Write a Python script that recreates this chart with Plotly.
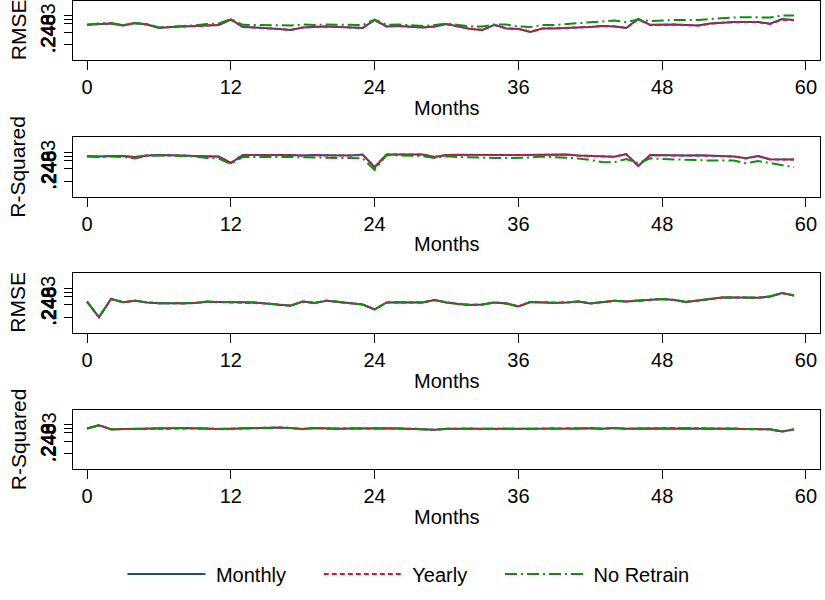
import plotly.graph_objects as go

months = list(range(60))

# Panel 1: RMSE
rmse1_monthly = [.2357, .2365, .2370, .2350, .2375, .2360, .2325, .2335, .2340, .2345, .2350, .2355,
                 .2410, .2335, .2330, .2325, .2315, .2305, .2330, .2335, .2340, .2335, .2330, .2325,
                 .2405, .2340, .2345, .2340, .2330, .2340, .2365, .2340, .2315, .2305, .2357, .2320,
                 .2315, .2285, .2320, .2320, .2325, .2325, .2335, .2345, .2340, .2325, .2415, .2357,
                 .2360, .2360, .2355, .2350, .2370, .2380, .2385, .2385, .2385, .2367, .2415, .2405]
rmse1_yearly = [.2355, .2366, .2368, .2352, .2373, .2361, .2327, .2336, .2341, .2344, .2352, .2356,
                .2408, .2337, .2331, .2326, .2316, .2306, .2331, .2337, .2341, .2336, .2331, .2327,
                .2404, .2341, .2346, .2341, .2331, .2341, .2363, .2341, .2317, .2307, .2355, .2321,
                .2317, .2287, .2321, .2322, .2327, .2326, .2336, .2346, .2342, .2327, .2413, .2355,
                .2359, .2359, .2354, .2350, .2368, .2378, .2383, .2384, .2384, .2366, .2408, .2402]
rmse1_noretrain = [.2357, .2370, .2375, .2355, .2375, .2365, .2330, .2340, .2345, .2350, .2365, .2370,
                   .2415, .2357, .2355, .2355, .2350, .2350, .2360, .2355, .2360, .2360, .2355, .2355,
                   .2410, .2357, .2360, .2355, .2345, .2355, .2370, .2355, .2340, .2340, .2360, .2360,
                   .2340, .2335, .2355, .2355, .2365, .2373, .2380, .2395, .2400, .2383, .2410, .2393,
                   .2400, .2405, .2405, .2405, .2415, .2425, .2430, .2433, .2435, .2430, .2450, .2450]

# Panel 2: R-Squared
r2_2_monthly = [.2410, .2405, .2410, .2410, .2400, .2415, .2420, .2420, .2415, .2410, .2410, .2405,
                .2340, .2420, .2420, .2422, .2425, .2420, .2415, .2420, .2417, .2415, .2415, .2425,
                .2297, .2425, .2425, .2427, .2425, .2400, .2420, .2422, .2420, .2420, .2415, .2420,
                .2420, .2420, .2425, .2427, .2425, .2415, .2410, .2405, .2403, .2430, .2310, .2420,
                .2417, .2415, .2415, .2417, .2415, .2413, .2405, .2387, .2410, .2377, .2377, .2375]
r2_2_yearly = [.2408, .2404, .2409, .2408, .2398, .2414, .2419, .2419, .2414, .2409, .2408, .2403,
               .2342, .2419, .2419, .2421, .2424, .2419, .2414, .2419, .2416, .2414, .2414, .2423,
               .2300, .2424, .2424, .2426, .2424, .2401, .2419, .2421, .2419, .2419, .2414, .2419,
               .2419, .2419, .2424, .2426, .2424, .2414, .2409, .2404, .2402, .2429, .2313, .2419,
               .2416, .2414, .2414, .2416, .2414, .2412, .2404, .2386, .2409, .2376, .2376, .2374]
r2_2_noretrain = [.2405, .2400, .2405, .2400, .2385, .2410, .2415, .2415, .2410, .2405, .2390, .2385,
                  .2330, .2400, .2400, .2405, .2405, .2400, .2397, .2395, .2395, .2395, .2390, .2387,
                  .2270, .2420, .2415, .2415, .2410, .2390, .2407, .2400, .2395, .2390, .2390, .2390,
                  .2390, .2395, .2405, .2400, .2395, .2385, .2370, .2350, .2347, .2380, .2337, .2387,
                  .2380, .2375, .2370, .2370, .2365, .2365, .2365, .2337, .2360, .2340, .2320, .2297]

# Panel 3: RMSE
rmse3_monthly = [.2313, .2157, .2340, .2307, .2323, .2305, .2297, .2295, .2297, .2300, .2313, .2310,
                 .2305, .2307, .2305, .2295, .2280, .2273, .2315, .2300, .2323, .2310, .2295, .2285,
                 .2235, .2305, .2307, .2305, .2305, .2330, .2305, .2290, .2280, .2285, .2305, .2295,
                 .2265, .2310, .2305, .2300, .2305, .2315, .2295, .2310, .2322, .2315, .2325, .2330,
                 .2340, .2330, .2310, .2325, .2340, .2355, .2355, .2355, .2352, .2365, .2400, .2375]
rmse3_yearly = [.2312, .2158, .2339, .2308, .2322, .2306, .2298, .2296, .2296, .2301, .2312, .2309,
                .2306, .2306, .2304, .2296, .2281, .2274, .2314, .2301, .2322, .2309, .2296, .2286,
                .2236, .2304, .2306, .2306, .2304, .2329, .2306, .2291, .2281, .2284, .2304, .2296,
                .2266, .2309, .2306, .2301, .2304, .2314, .2296, .2309, .2321, .2314, .2324, .2329,
                .2339, .2331, .2311, .2324, .2339, .2354, .2356, .2354, .2353, .2364, .2399, .2376]
rmse3_noretrain = [.2314, .2158, .2341, .2308, .2324, .2306, .2298, .2296, .2298, .2301, .2314, .2311,
                   .2306, .2308, .2306, .2296, .2281, .2274, .2316, .2301, .2324, .2311, .2296, .2286,
                   .2236, .2306, .2308, .2306, .2306, .2331, .2306, .2291, .2281, .2286, .2306, .2296,
                   .2266, .2311, .2306, .2301, .2306, .2316, .2296, .2311, .2323, .2316, .2326, .2331,
                   .2341, .2331, .2311, .2326, .2341, .2356, .2356, .2356, .2353, .2366, .2401, .2376]

# Panel 4: R-Squared
r2_4_monthly = [.2410, .2443, .2402, .2405, .2405, .2410, .2412, .2415, .2415, .2412, .2407, .2405,
                .2407, .2412, .2415, .2417, .2420, .2415, .2405, .2415, .2410, .2407, .2410, .2413,
                .2415, .2412, .2410, .2408, .2405, .2397, .2407, .2407, .2408, .2405, .2407, .2408,
                .2405, .2408, .2412, .2410, .2408, .2410, .2413, .2407, .2415, .2407, .2410, .2410,
                .2413, .2415, .2413, .2410, .2410, .2410, .2408, .2405, .2405, .2403, .2380, .2400]
r2_4_yearly = [.2409, .2442, .2403, .2404, .2406, .2409, .2413, .2414, .2416, .2411, .2408, .2404,
               .2408, .2411, .2416, .2416, .2421, .2414, .2406, .2414, .2411, .2406, .2411, .2412,
               .2416, .2411, .2411, .2407, .2406, .2396, .2408, .2406, .2409, .2404, .2408, .2407,
               .2406, .2407, .2413, .2409, .2409, .2409, .2414, .2406, .2416, .2406, .2411, .2409,
               .2414, .2414, .2414, .2409, .2411, .2409, .2409, .2404, .2406, .2402, .2381, .2399]
r2_4_noretrain = [.2410, .2443, .2401, .2405, .2404, .2410, .2411, .2415, .2414, .2412, .2406, .2405,
                  .2406, .2412, .2414, .2417, .2419, .2415, .2404, .2415, .2409, .2407, .2409, .2413,
                  .2414, .2412, .2409, .2408, .2404, .2397, .2406, .2407, .2407, .2405, .2406, .2408,
                  .2404, .2408, .2411, .2410, .2407, .2410, .2412, .2407, .2414, .2407, .2409, .2410,
                  .2412, .2415, .2412, .2410, .2409, .2410, .2407, .2405, .2404, .2403, .2379, .2400]

panel_titles = ["RMSE", "R-Squared", "RMSE", "R-Squared"]
series_names = ["Monthly", "Yearly", "No Retrain"]
x_ticks = [0, 12, 24, 36, 48, 60]
y_ticks = [0.2160, 0.2285, 0.2370, 0.2410, 0.2450]
y_tick_labels = [".240", ".243", ".246", ".248", ".2483"]

panels = [
    [rmse1_monthly, rmse1_yearly, rmse1_noretrain],
    [r2_2_monthly, r2_2_yearly, r2_2_noretrain],
    [rmse3_monthly, rmse3_yearly, rmse3_noretrain],
    [r2_4_monthly, r2_4_yearly, r2_4_noretrain],
]

colors = ["#1f4f82", "#dc143c", "#138a13"]
dashes = ["solid", "5px,3px", "12px,4px,2px,4px"]
widths = [2, 2, 2]

FONT = "Liberation Sans, Arial, Helvetica, sans-serif"
W, H = 825, 600
ML, MR = 73, 5
plot_w = W - ML - MR
panel_tops = [0.5, 137.0, 273.0, 409.5]
panel_h = 59.5
NB = "\u00a0"

fig = go.Figure()
layout = dict(
    width=W, height=H,
    margin=dict(l=ML, r=MR, t=0, b=0, autoexpand=False),
    paper_bgcolor="white", plot_bgcolor="white",
    font=dict(family=FONT, size=20, color="black"),
    showlegend=True,
)
annotations = []
for k, series in enumerate(panels):
    idx = "" if k == 0 else str(k + 1)
    xa, ya = "x" + idx, "y" + idx
    for s, vals in enumerate(series):
        fig.add_trace(go.Scatter(
            x=months, y=vals, xaxis=xa, yaxis=ya, mode="lines",
            name=NB + series_names[s] + NB * 5, showlegend=(k == 0),
            legendgroup=series_names[s],
            line=dict(color=colors[s], dash=dashes[s], width=widths[s]),
        ))
    top = panel_tops[k]
    d0 = (H - top - panel_h) / H
    d1 = (H - top) / H
    layout["xaxis" + idx] = dict(
        domain=[0, 1], anchor=ya, range=[-1.17, 61.17],
        tickvals=x_ticks, ticks="outside", ticklen=9, tickwidth=1.3, tickcolor="black",
        showline=True, linecolor="black", linewidth=1.3, mirror=True,
        showgrid=False, zeroline=False, tickfont=dict(size=20, family=FONT),
    )
    layout["yaxis" + idx] = dict(
        domain=[d0, d1], anchor=xa, range=[0.2005, 0.2600],
        tickvals=y_ticks, ticktext=[""] * len(y_ticks), ticks="outside", ticklen=8,
        tickwidth=1.3, tickcolor="black",
        showline=True, linecolor="black", linewidth=1.3, mirror=True,
        showgrid=False, zeroline=False,
    )
    # overlapping rotated y tick labels
    for lab in y_tick_labels:
        annotations.append(dict(
            text=lab, xref="paper", x=(48 - ML) / plot_w, xanchor="center",
            yref=ya + " domain", y=(panel_h - 55) / panel_h, yanchor="bottom",
            textangle=-90, showarrow=False, font=dict(size=20, family=FONT),
        ))
    # y title
    annotations.append(dict(
        text=panel_titles[k], xref="paper", x=(18 - ML) / plot_w, xanchor="center",
        yref=ya + " domain", y=0.5, yanchor="middle",
        textangle=-90, showarrow=False, font=dict(size=21, family=FONT),
    ))
    # x title
    annotations.append(dict(
        text="Months", xref="paper", x=0.5, xanchor="center",
        yref=ya + " domain", y=-48 / panel_h, yanchor="middle",
        showarrow=False, font=dict(size=20, family=FONT),
    ))

layout["annotations"] = annotations
layout["legend"] = dict(
    orientation="h", xref="container", x=0.512, xanchor="center",
    yref="container", y=1 - 574 / H, yanchor="middle",
    font=dict(size=20, family=FONT), itemwidth=78, bgcolor="rgba(0,0,0,0)",
)
fig.update_layout(**layout)
fig.write_html("out.html")
